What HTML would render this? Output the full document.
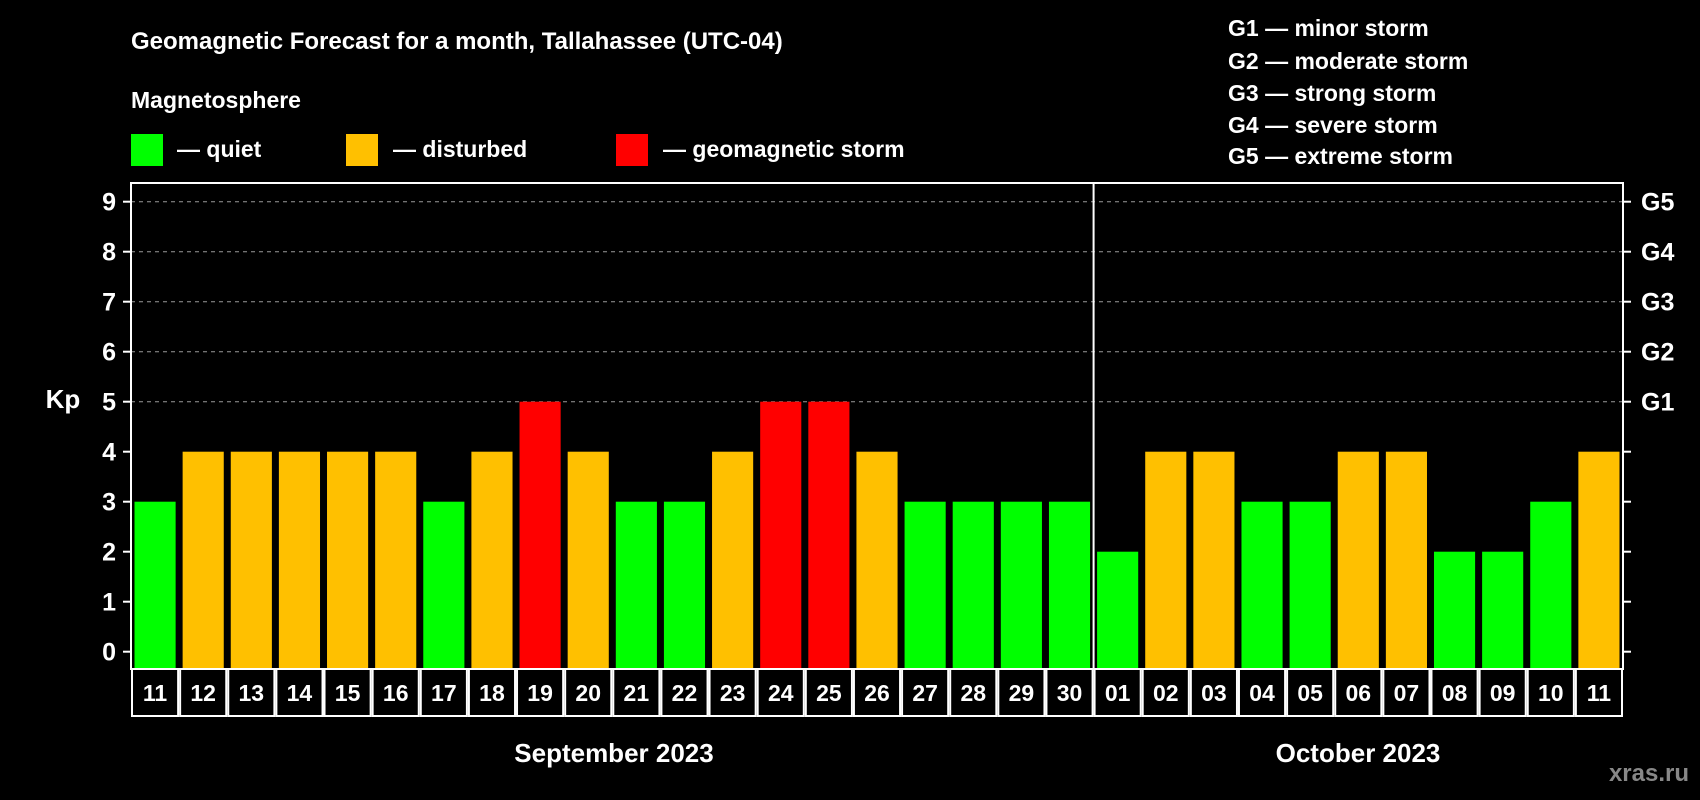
<!DOCTYPE html>
<html><head><meta charset="utf-8"><style>
body{margin:0;background:#000;width:1700px;height:800px;overflow:hidden}
svg{display:block;font-family:"Liberation Sans",sans-serif;font-weight:bold}
</style></head><body>
<svg id="c" width="1700" height="800">
<text x="131" y="49" fill="#fff" font-size="24">Geomagnetic Forecast for a month, Tallahassee (UTC-04)</text>
<text x="131" y="108" fill="#fff" font-size="23">Magnetosphere</text>
<g><rect x="131" y="134" width="32" height="32" fill="#00ff00"/><text x="177" y="157" fill="#fff" font-size="23">— quiet</text></g>
<g><rect x="346" y="134" width="32" height="32" fill="#ffc000"/><text x="393" y="157" fill="#fff" font-size="23">— disturbed</text></g>
<g><rect x="616" y="134" width="32" height="32" fill="#ff0000"/><text x="663" y="157" fill="#fff" font-size="23">— geomagnetic storm</text></g>
<g fill="#fff" font-size="23">
<text x="1228" y="36">G1 — minor storm</text>
<text x="1228" y="69">G2 — moderate storm</text>
<text x="1228" y="101">G3 — strong storm</text>
<text x="1228" y="133">G4 — severe storm</text>
<text x="1228" y="164">G5 — extreme storm</text>
</g>
<text x="63" y="408" fill="#fff" font-size="26" text-anchor="middle">Kp</text>
<text x="614" y="762" fill="#fff" font-size="26" text-anchor="middle">September 2023</text>
<text x="1358" y="762" fill="#fff" font-size="26" text-anchor="middle">October 2023</text>
<text x="1689" y="781" fill="#888" font-size="24" text-anchor="end">xras.ru</text>
<g id="plot"></g>
</svg>
<script>
const days=["11","12","13","14","15","16","17","18","19","20","21","22","23","24","25","26","27","28","29","30","01","02","03","04","05","06","07","08","09","10","11"];
const kp=[3,4,4,4,4,4,3,4,5,4,3,3,4,5,5,4,3,3,3,3,2,4,4,3,3,4,4,2,2,3,4];
const yTicks=[0,1,2,3,4,5,6,7,8,9];
const gLabels=["","","","","","G1","G2","G3","G4","G5"];
const L=131,R=1623,T=183,B=669,Y0=651.7,U=50;
const ns="http://www.w3.org/2000/svg",g=document.getElementById('plot');
const y=v=>Y0-v*U, slot=(R-L)/days.length, x=i=>L+i*slot;
function mk(t,a){const e=document.createElementNS(ns,t);for(const k in a)e.setAttribute(k,a[k]);g.appendChild(e);return e;}
yTicks.forEach(v=>{
 if(v>=5){const l=mk('line',{x1:L,x2:R,y1:y(v),y2:y(v),stroke:'#999','stroke-dasharray':'4,4','stroke-width':1});
 
 }
 mk('line',{x1:L-8,x2:L,y1:y(v),y2:y(v),stroke:'#fff','stroke-width':2});
 mk('line',{x1:R,x2:R+8,y1:y(v),y2:y(v),stroke:'#fff','stroke-width':2});
 const t=mk('text',{x:L-15,y:y(v)+9,fill:'#fff','font-size':25,'text-anchor':'end'});t.textContent=v;
 
 
 if(gLabels[v]){const t2=mk('text',{x:R+18,y:y(v)+9,fill:'#fff','font-size':25});t2.textContent=gLabels[v];
 
 }
});
kp.forEach((v,i)=>{
 const c=v>=5?'#ff0000':v>=4?'#ffc000':'#00ff00';
 const r=mk('rect',{x:x(i)+3.5,y:y(v),width:slot-7,height:B-y(v)-1,fill:c});
 
 
 const b=mk('rect',{x:x(i)+1,y:B,width:slot-2,height:47,fill:'none',stroke:'#fff','stroke-width':2});
 
 
 const t=mk('text',{x:x(i)+slot/2,y:B+32,fill:'#fff','font-size':23,'text-anchor':'middle'});t.textContent=days[i];
 
 
});
const f=mk('rect',{x:L,y:T,width:R-L,height:B-T,fill:'none',stroke:'#fff','stroke-width':2});


const d=mk('line',{x1:x(20),x2:x(20),y1:T,y2:B,stroke:'#fff','stroke-width':2});


</script>
</body></html>
